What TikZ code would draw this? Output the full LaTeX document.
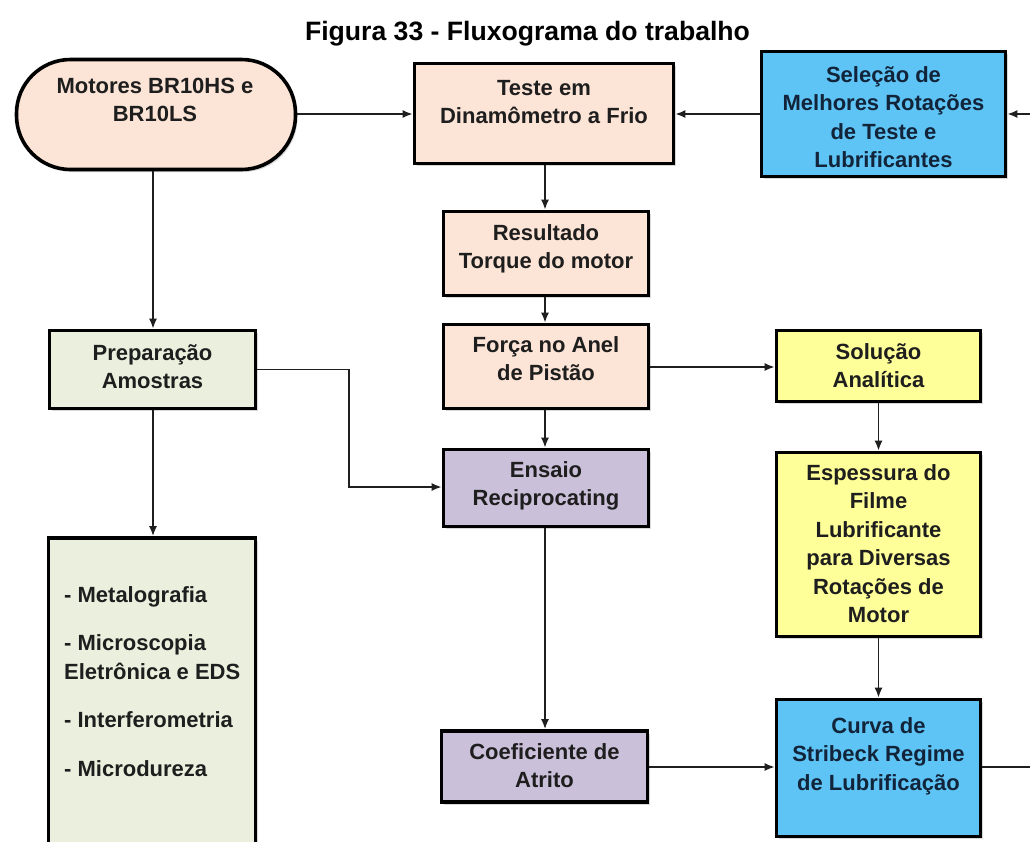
\documentclass[tikz,border=0pt]{standalone}
\usepackage{fontspec}
\setmainfont{Liberation Sans}
\usetikzlibrary{arrows.meta,shadows}
\definecolor{peach}{HTML}{FCE4D6}
\definecolor{sage}{HTML}{EBF0DE}
\definecolor{lilac}{HTML}{CBC0DA}
\definecolor{lemon}{HTML}{FFFF99}
\definecolor{sky}{HTML}{5EC4F5}
\definecolor{txtc}{HTML}{1E1E1E}
\definecolor{navy}{HTML}{12243A}
\newcommand\fst{\rule{0pt}{20pt}}
\begin{document}
\begin{tikzpicture}[x=1pt,y=-1pt,
  box/.style={draw=black, line width=3.6pt, inner sep=0pt,
    drop shadow={opacity=0.3,shadow xshift=2pt,shadow yshift=-2.5pt}},
  txt/.style={font=\fontsize{22}{28.5}\selectfont\bfseries, text=txtc, align=center, inner sep=0pt, anchor=north},
  arr/.style={line width=1.8pt, draw=black!88, -{Latex[length=10pt,width=8pt]}},
  ln/.style={line width=1.8pt, draw=black!88}
]
\useasboundingbox (0,0) rectangle (1030,841);
\fill[white] (0,0) rectangle (1030,841);
\clip (0,0) rectangle (1030,841);

% title
\node[font=\fontsize{26.6}{30}\selectfont\bfseries, anchor=base, inner sep=0pt] (title) at (527.5,40) {Figura 33 - Fluxograma do trabalho};

% boxes
\node[box, fill=peach, rounded corners=54pt, minimum width=279pt, minimum height=110pt] (mot) at (156,114.5) {};
\node[box, fill=peach, minimum width=259pt, minimum height=100pt] (teste) at (544,113.5) {};
\node[box, fill=sky, minimum width=244pt, minimum height=125pt] (sel) at (883.5,114) {};
\node[box, fill=peach, minimum width=205pt, minimum height=84pt] (res) at (546,253.5) {};
\node[box, fill=peach, minimum width=205pt, minimum height=84pt] (forca) at (546,366.5) {};
\node[box, fill=lilac, minimum width=205pt, minimum height=77pt] (ens) at (546,488) {};
\node[box, fill=lilac, minimum width=206pt, minimum height=71pt] (coef) at (544.5,766.5) {};
\node[box, fill=lemon, minimum width=204pt, minimum height=71pt] (sol) at (878.5,366) {};
\node[box, fill=lemon, minimum width=204pt, minimum height=184pt] (esp) at (878.5,544.5) {};
\node[box, fill=sky, minimum width=204pt, minimum height=137pt] (curva) at (878.5,768) {};
\node[box, fill=sage, minimum width=206pt, minimum height=78pt] (prep) at (152.5,369.5) {};
\node[box, fill=sage, minimum width=207pt, minimum height=362pt] (meta) at (152,719) {};

% texts
\node[txt] (tmot) at (155,73) {\fst Motores BR10HS e\\BR10LS};
\node[txt] (tteste) at (544,75) {\fst Teste em\\Dinamômetro a Frio};
\node[txt, text=navy] (tsel) at (883.5,62) {\fst Seleção de\\Melhores Rotações\\de Teste e\\Lubrificantes};
\node[txt] (tres) at (546,220) {\fst Resultado\\Torque do motor};
\node[txt] (tforca) at (546,332) {\fst Força no Anel\\de Pistão};
\node[txt] (tens) at (546,457) {\fst Ensaio\\Reciprocating};
\node[txt] (tcoef) at (544.5,739) {\fst Coeficiente de\\Atrito};
\node[txt] (tsol) at (878.5,339) {\fst Solução\\Analítica};
\node[txt] (tesp) at (878.5,460) {\fst Espessura do\\Filme\\Lubrificante\\para Diversas\\Rotações de\\Motor};
\node[txt, text=navy] (tcurva) at (878.5,713) {\fst Curva de\\Stribeck Regime\\de Lubrificação};
\node[txt] (tprep) at (152.5,340) {\fst Preparação\\Amostras};
\node[txt, align=left, anchor=north west] (tmeta) at (64,582) {\fst - Metalografia\\[20pt]- Microscopia\\Eletrônica e EDS\\[20pt]- Interferometria\\[20pt]- Microdureza};

% free ends
\coordinate (rin) at (1030,114);
\coordinate (rout) at (1030,767);

% connectors
\draw[arr] (mot.east |- 0,114) -- (teste.west |- 0,114);
\draw[arr] (sel.west |- 0,114) -- (teste.east |- 0,114);
\draw[arr] (rin) -- (sel.east |- rin);
\draw[arr] (teste.south -| 545,0) -- (res.north -| 545,0);
\draw[arr] (res.south -| 545,0) -- (forca.north -| 545,0);
\draw[arr] (forca.south -| 545,0) -- (ens.north -| 545,0);
\draw[arr] (ens.south -| 545,0) -- (coef.north -| 545,0);
\draw[arr] (forca.east |- 0,367) -- (sol.west |- 0,367);
\draw[arr] (sol.south) -- (esp.north);
\draw[arr] (esp.south) -- (curva.north);
\draw[arr] (coef.east |- 0,767) -- (curva.west |- 0,767);
\draw[ln] (curva.east |- rout) -- (rout);
\draw[arr] (mot.south -| 153,0) -- (prep.north -| 153,0);
\draw[arr] (prep.south -| 153,0) -- (meta.north -| 153,0);
\draw[arr] (prep.east) -- (349,369.5) |- (ens.west |- 0,487);
\end{tikzpicture}
\end{document}
